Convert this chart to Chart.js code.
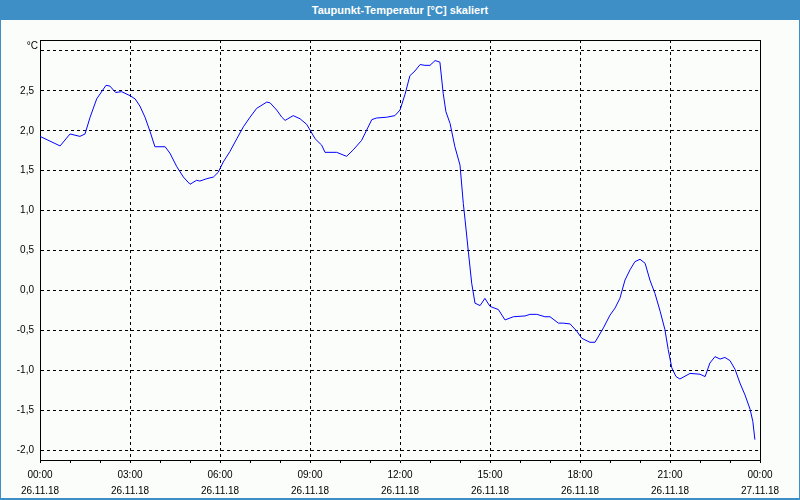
<!DOCTYPE html>
<html>
<head>
<meta charset="utf-8">
<script src="https://cdn.jsdelivr.net/npm/chart.js@4"></script>
<style>
  html, body { margin: 0; padding: 0; background: #fbfdfb; }
  #wrap { position: relative; width: 800px; height: 500px; background: #fbfdfb; overflow: hidden; }
  #title { position: absolute; left: 0; top: 0; width: 800px; height: 20px; background: #3d8fc6; color: #fff;
           font: bold 11px "Liberation Sans", Arial, sans-serif; line-height: 20px; text-align: center; z-index: 2; }
  #frame { position: absolute; left: 0; top: 0; width: 800px; height: 500px; box-sizing: border-box;
           border-left: 1px solid #3d8fc6; border-right: 1px solid #3d8fc6; border-bottom: 2px solid #3d8fc6;
           pointer-events: none; z-index: 3; }
  canvas { position: absolute; left: 0; top: 0; }
</style>
</head>
<body>
<div id="wrap">
  <div id="title">Taupunkt-Temperatur [°C] skaliert</div>
  <canvas id="chart" width="800" height="500"></canvas>
  <div id="frame"></div>
</div>
<script>
// time of day in hours (26.11.18 00:00 = 0)
const hours = [
  0.00, 0.67, 1.00, 1.33, 1.50, 1.67, 1.89, 2.20, 2.33, 2.52, 2.72, 3.00, 3.17, 3.33, 3.50, 3.67, 3.83,
  4.17, 4.33, 4.56, 4.78, 5.00, 5.22, 5.33, 5.56, 5.78, 5.94, 6.11, 6.33, 6.56, 6.78, 7.00, 7.22, 7.56,
  7.67, 7.89, 8.06, 8.17, 8.44, 8.67, 8.89, 9.00, 9.17, 9.39, 9.50, 9.89, 10.22, 10.44, 10.72, 10.89,
  11.06, 11.22, 11.56, 11.83, 12.00, 12.17, 12.33, 12.50, 12.67, 12.83, 13.00, 13.17, 13.33, 13.44,
  13.53, 13.67, 13.83, 14.00, 14.11, 14.17, 14.28, 14.39, 14.50, 14.67, 14.83, 15.00, 15.28, 15.50,
  15.78, 16.17, 16.33, 16.56, 16.83, 17.00, 17.28, 17.44, 17.67, 17.89, 18.06, 18.33, 18.50, 18.78,
  19.00, 19.17, 19.33, 19.50, 19.67, 19.83, 20.00, 20.17, 20.33, 20.50, 20.67, 20.83, 20.94, 21.06,
  21.20, 21.33, 21.67, 22.00, 22.17, 22.33, 22.50, 22.67, 22.83, 23.00, 23.17, 23.33, 23.50, 23.67,
  23.76, 23.83
];

// dew point in °C
const dewPoint = [
  1.93, 1.81, 1.96, 1.93, 1.96, 2.17, 2.40, 2.57, 2.56, 2.48, 2.49, 2.44, 2.40, 2.31, 2.17, 1.99, 1.80,
  1.80, 1.72, 1.55, 1.42, 1.33, 1.38, 1.37, 1.40, 1.42, 1.48, 1.61, 1.74, 1.90, 2.05, 2.17, 2.28, 2.36,
  2.35, 2.26, 2.17, 2.13, 2.19, 2.15, 2.08, 2.01, 1.90, 1.82, 1.73, 1.73, 1.68, 1.76, 1.88, 2.01,
  2.14, 2.16, 2.17, 2.19, 2.26, 2.46, 2.69, 2.75, 2.83, 2.82, 2.82, 2.88, 2.86, 2.47,
  2.24, 2.09, 1.80, 1.57, 1.09, 0.88, 0.48, 0.09, -0.16, -0.19, -0.10, -0.20, -0.24, -0.37,
  -0.33, -0.32, -0.30, -0.30, -0.33, -0.33, -0.41, -0.41, -0.42, -0.51, -0.60, -0.65, -0.65, -0.47,
  -0.31, -0.22, -0.10, 0.13, 0.26, 0.36, 0.39, 0.34, 0.13, -0.04, -0.26, -0.49, -0.74, -0.97,
  -1.08, -1.11, -1.04, -1.05, -1.08, -0.91, -0.83, -0.86, -0.84, -0.88, -0.99, -1.16, -1.31, -1.49,
  -1.64, -1.87
];

// x axis labels, one per 3 hours
const timeLabels = ['00:00', '03:00', '06:00', '09:00', '12:00', '15:00', '18:00', '21:00', '00:00'];
const dateLabels = ['26.11.18', '26.11.18', '26.11.18', '26.11.18', '26.11.18', '26.11.18', '26.11.18', '26.11.18', '27.11.18'];

const FONT = '"Liberation Sans", Arial, sans-serif';

// solid frame on top/right of the plot area and the unit label
const framePlugin = {
  id: 'frame',
  afterDraw(chart) {
    const { ctx, chartArea: a } = chart;
    ctx.save();
    ctx.strokeStyle = '#000';
    ctx.lineWidth = 1;
    ctx.beginPath();
    ctx.moveTo(Math.round(a.left) + 0.5, Math.round(a.top) + 0.5);
    ctx.lineTo(Math.round(a.right) + 0.5, Math.round(a.top) + 0.5);
    ctx.lineTo(Math.round(a.right) + 0.5, Math.round(a.bottom) + 0.5);
    ctx.stroke();
    ctx.fillStyle = '#000';
    ctx.font = '10px ' + FONT;
    ctx.textAlign = 'right';
    ctx.textBaseline = 'middle';
    ctx.fillText('°C', a.left - 2, a.top + 6);
    ctx.restore();
  }
};

new Chart(document.getElementById('chart'), {
  type: 'line',
  data: {
    datasets: [{
      data: hours.map((h, i) => ({ x: h, y: dewPoint[i] })),
      borderColor: '#0000ff',
      borderWidth: 1,
      pointRadius: 0,
      tension: 0,
      fill: false
    }]
  },
  options: {
    responsive: false,
    animation: false,
    layout: { padding: { top: 40, right: 40, left: 0, bottom: 0 } },
    plugins: { legend: { display: false }, tooltip: { enabled: false } },
    scales: {
      x: {
        type: 'linear',
        min: 0,
        max: 24,
        afterFit: s => { s.height = 40; },
        ticks: {
          stepSize: 1,
          autoSkip: false,
          maxRotation: 0,
          padding: 4,
          color: '#000',
          font: { size: 10, family: FONT, lineHeight: 1.6 },
          callback: v => (v % 3 === 0 ? [timeLabels[v / 3], dateLabels[v / 3]] : '')
        },
        grid: {
          color: c => (c.tick && c.tick.value % 3 === 0 ? '#000' : 'rgba(0,0,0,0)'),
          tickColor: '#000',
          tickLength: 3,
          lineWidth: 1
        },
        border: { color: '#000', width: 1, dash: [3, 3] }
      },
      y: {
        min: -2.125,
        max: 3.1375,
        afterFit: s => { s.width = 40; },
        ticks: {
          stepSize: 0.5,
          includeBounds: false,
          padding: 6,
          color: '#000',
          font: { size: 10, family: FONT },
          callback: v => (v > 2.9 ? '' : v.toFixed(1).replace('.', ','))
        },
        grid: { color: '#000', drawTicks: false, lineWidth: 1 },
        border: { color: '#000', width: 1, dash: [3, 3] }
      }
    }
  },
  plugins: [framePlugin]
});
</script>
</body>
</html>
